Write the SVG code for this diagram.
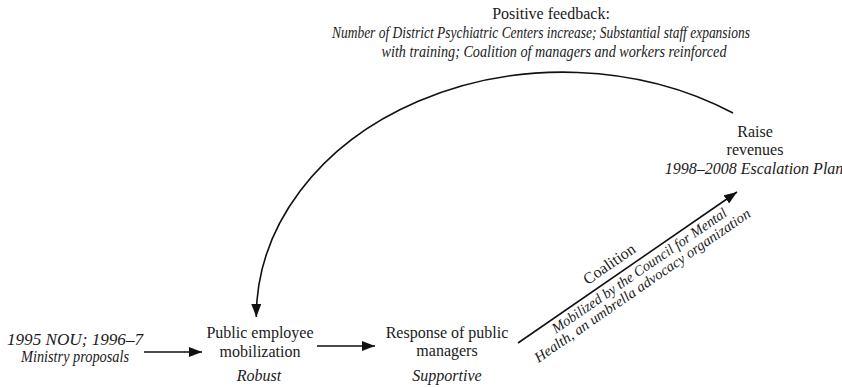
<svg xmlns="http://www.w3.org/2000/svg" width="842" height="388" viewBox="0 0 842 388">
<style>
.t{font-family:"Liberation Serif","Times New Roman",serif;font-size:16px;fill:#1a1a1a;text-anchor:middle}
.i{font-style:italic}
.s{font-size:14.5px}
.ln{fill:none;stroke:#111;stroke-width:1.6}
</style>
<defs>
<marker id="ah" markerUnits="userSpaceOnUse" markerWidth="14" markerHeight="10" refX="13" refY="5" orient="auto">
<path d="M0,0 L13,5 L0,10 z" fill="#111"/>
</marker>
</defs>
<rect width="842" height="388" fill="#fff"/>
<g id="connectors">
<path class="ln" d="M144,352 L202,352" marker-end="url(#ah)"/>
<path class="ln" d="M317,346 L375,346" marker-end="url(#ah)"/>
<path class="ln" d="M518,343 L737,192" stroke-width="2" marker-end="url(#ah)"/>
<path class="ln" d="M733,113 A307,245 0 0 0 256.3,317" marker-end="url(#ah)"/>
</g>
<g id="feedback">
<text class="t" x="551" y="19">Positive feedback:</text>
<text class="t i" x="541" y="38" textLength="418" lengthAdjust="spacingAndGlyphs">Number of District Psychiatric Centers increase; Substantial staff expansions</text>
<text class="t i" x="554" y="57" textLength="345" lengthAdjust="spacingAndGlyphs">with training; Coalition of managers and workers reinforced</text>
</g>
<g id="raise-revenues">
<text class="t" x="755" y="137">Raise</text>
<text class="t" x="755" y="155">revenues</text>
<text class="t i" x="754" y="174">1998–2008 Escalation Plan</text>
</g>
<g id="ministry-proposals">
<text class="t i" x="75" y="345" textLength="136" lengthAdjust="spacingAndGlyphs">1995 NOU; 1996–7</text>
<text class="t i" x="75" y="362" textLength="108" lengthAdjust="spacingAndGlyphs">Ministry proposals</text>
</g>
<g id="public-employee">
<text class="t" x="260" y="338">Public employee</text>
<text class="t" x="260" y="357">mobilization</text>
<text class="t i" x="259" y="381">Robust</text>
</g>
<g id="public-managers">
<text class="t" x="447" y="338">Response of public</text>
<text class="t" x="447" y="356">managers</text>
<text class="t i" x="447" y="381">Supportive</text>
</g>
<g id="coalition-label" transform="translate(518,343) rotate(-34.6)">
<text class="t" x="120" y="-8">Coalition</text>
<text class="t i s" x="141" y="14" textLength="209" lengthAdjust="spacingAndGlyphs">Mobilized by the Council for Mental</text>
<text class="t i s" x="135" y="28" textLength="259" lengthAdjust="spacingAndGlyphs">Health, an umbrella advocacy organization</text>
</g>
</svg>
